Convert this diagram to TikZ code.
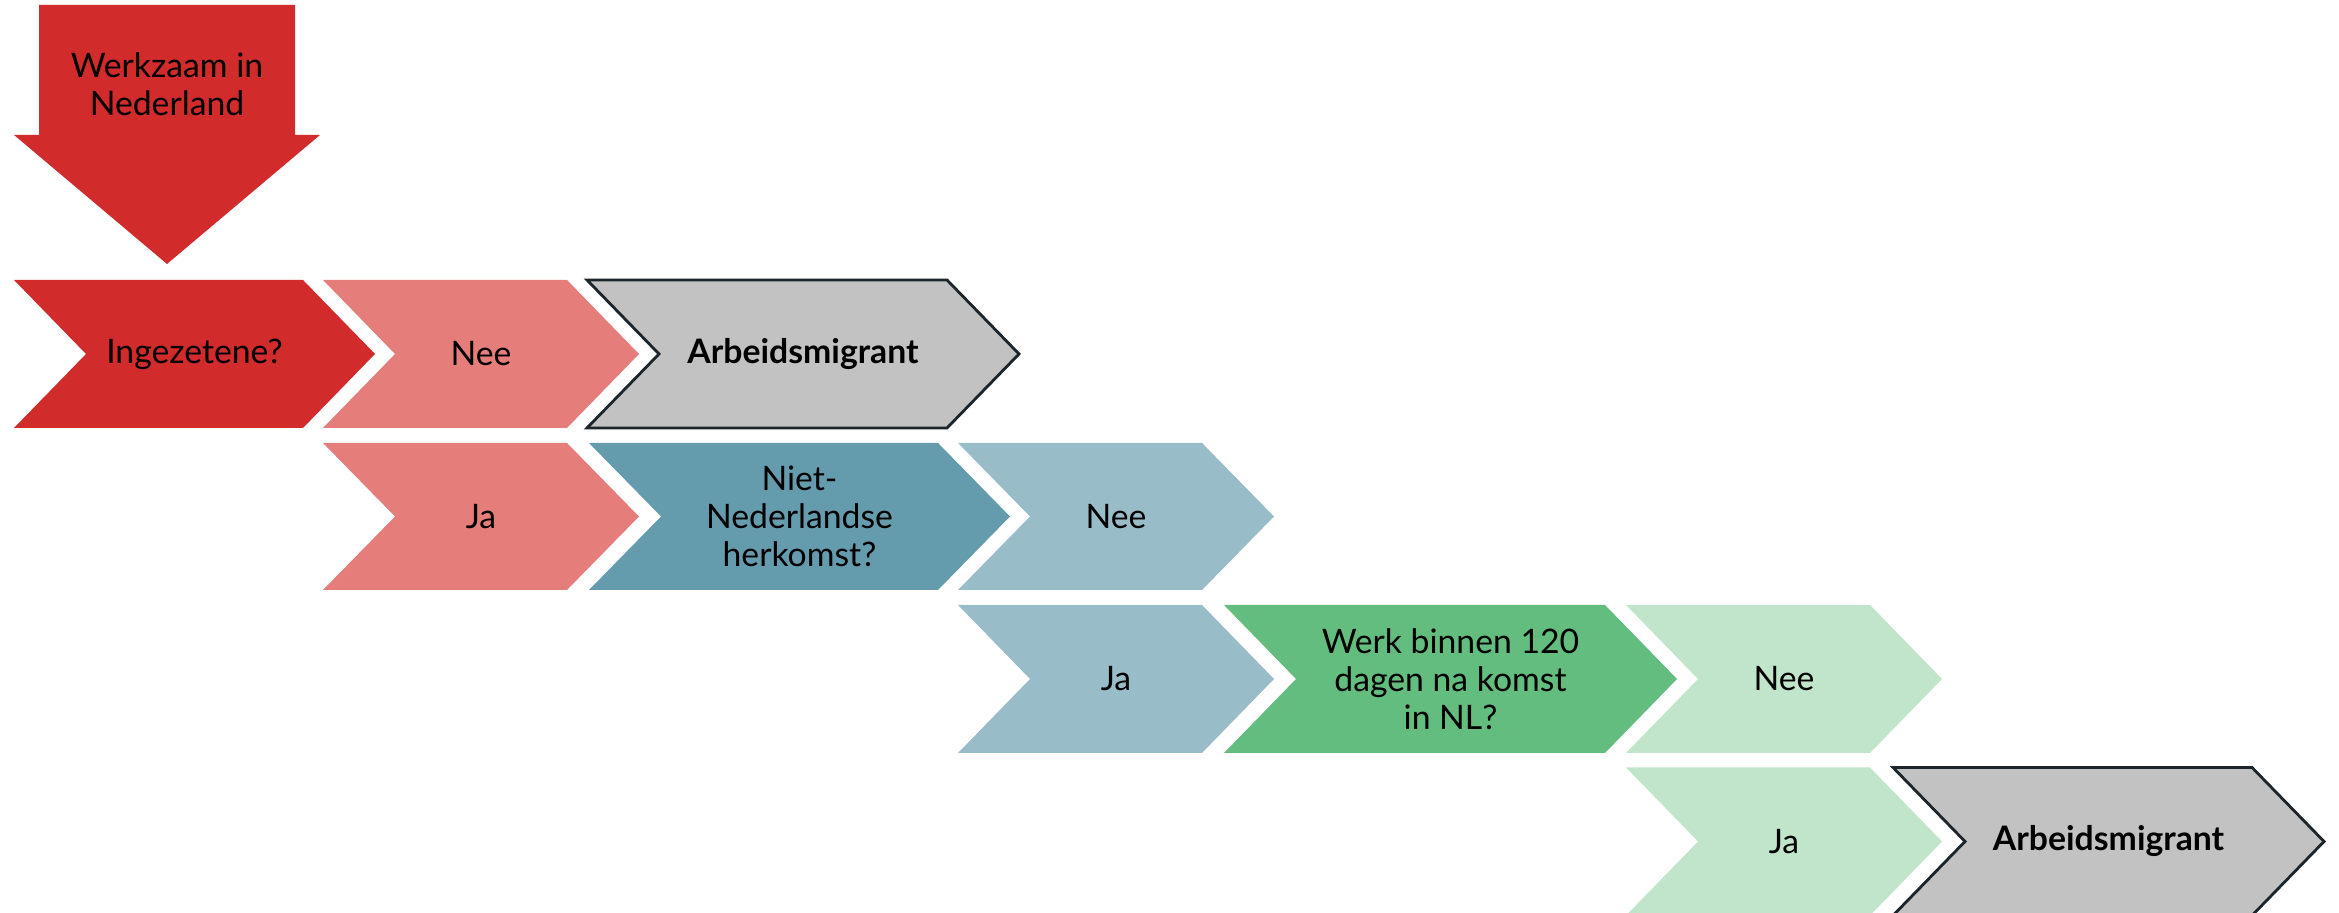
\documentclass[tikz,border=0pt]{standalone}
\usepackage{fontspec}
\setmainfont{Lato}
\definecolor{rood}{HTML}{D12B2B}
\definecolor{roze}{HTML}{E57E7B}
\definecolor{petrol}{HTML}{649CAE}
\definecolor{lichtblauw}{HTML}{98BDC9}
\definecolor{groen}{HTML}{63BD7E}
\definecolor{lichtgroen}{HTML}{C1E5CB}
\definecolor{grijs}{HTML}{C2C2C2}
\definecolor{rand}{HTML}{1B262C}
\begin{document}
\begin{tikzpicture}[
    every node/.style={align=center, font=\fontsize{9.6}{10.8}\selectfont},
    vraageen/.style={fill=rood},
    antween/.style={fill=roze},
    vraagtwee/.style={fill=petrol},
    antwtwee/.style={fill=lichtblauw},
    vraagdrie/.style={fill=groen},
    antwdrie/.style={fill=lichtgroen},
    uitkomst/.style={fill=grijs, draw=rand, line width=0.8pt}]
    \useasboundingbox (0,0) rectangle (23.39,9.13);

    % Start arrow
    \fill[vraageen] (0.39,9.08) -- (2.95,9.08) -- (2.95,7.78) -- (3.20,7.78) -- (1.67,6.49) -- (0.14,7.78) -- (0.39,7.78) -- cycle;
    \node (start) at (1.67,8.29) {Werkzaam in\\Nederland};

    % Row 1
    \fill[vraageen] (0.14,6.33) -- (3.03,6.33) -- (3.75,5.59) -- (3.03,4.85) -- (0.14,4.85) -- (0.86,5.59) -- cycle;
    \node (ingezetene) at (1.945,5.59) {Ingezetene?};

    \fill[antween] (3.23,6.33) -- (5.67,6.33) -- (6.39,5.59) -- (5.67,4.85) -- (3.23,4.85) -- (3.95,5.59) -- cycle;
    \node (nee1) at (4.81,5.59) {Nee};

    \draw[uitkomst] (5.87,6.33) -- (9.47,6.33) -- (10.19,5.59) -- (9.47,4.85) -- (5.87,4.85) -- (6.59,5.59) -- cycle;
    \node (migrant1) at (8.03,5.59) {\bfseries Arbeidsmigrant};

    % Row 2
    \fill[antween] (3.23,4.70) -- (5.67,4.70) -- (6.39,3.965) -- (5.67,3.23) -- (3.23,3.23) -- (3.95,3.965) -- cycle;
    \node (ja1) at (4.81,3.965) {Ja};

    \fill[vraagtwee] (5.89,4.70) -- (9.38,4.70) -- (10.10,3.965) -- (9.38,3.23) -- (5.89,3.23) -- (6.61,3.965) -- cycle;
    \node (herkomst) at (7.995,3.965) {Niet-\\Nederlandse\\herkomst?};

    \fill[antwtwee] (9.58,4.70) -- (12.02,4.70) -- (12.74,3.965) -- (12.02,3.23) -- (9.58,3.23) -- (10.30,3.965) -- cycle;
    \node (nee2) at (11.16,3.965) {Nee};

    % Row 3
    \fill[antwtwee] (9.58,3.08) -- (12.02,3.08) -- (12.74,2.34) -- (12.02,1.60) -- (9.58,1.60) -- (10.30,2.34) -- cycle;
    \node (ja2) at (11.16,2.34) {Ja};

    \fill[vraagdrie] (12.24,3.08) -- (16.05,3.08) -- (16.77,2.34) -- (16.05,1.60) -- (12.24,1.60) -- (12.96,2.34) -- cycle;
    \node (werk) at (14.505,2.34) {Werk binnen 120\\dagen na komst\\in NL?};

    \fill[antwdrie] (16.26,3.08) -- (18.70,3.08) -- (19.42,2.34) -- (18.70,1.60) -- (16.26,1.60) -- (16.98,2.34) -- cycle;
    \node (nee3) at (17.84,2.34) {Nee};

    % Row 4
    \fill[antwdrie] (16.26,1.455) -- (18.70,1.455) -- (19.42,0.715) -- (18.70,-0.025) -- (16.26,-0.025) -- (16.98,0.715) -- cycle;
    \node (ja3) at (17.84,0.715) {Ja};

    \draw[uitkomst] (18.93,1.455) -- (22.52,1.455) -- (23.24,0.715) -- (22.52,-0.025) -- (18.93,-0.025) -- (19.65,0.715) -- cycle;
    \node (migrant2) at (21.085,0.715) {\bfseries Arbeidsmigrant};
\end{tikzpicture}
\end{document}
